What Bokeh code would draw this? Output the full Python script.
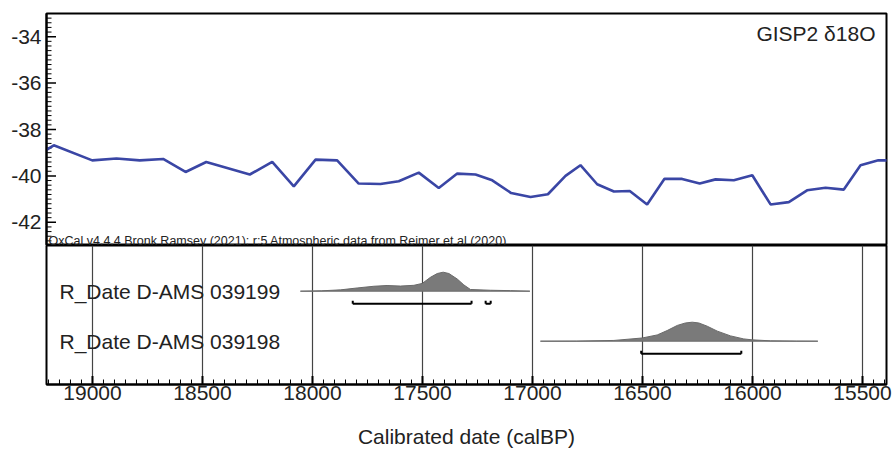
import math
from bokeh.plotting import figure
from bokeh.layouts import column
from bokeh.models import Range1d, FixedTicker, Label, CustomJSTickFormatter
from bokeh.core.properties import value
from bokeh.embed import file_html
from bokeh.resources import INLINE

# ---------------- data ----------------
gisp_years = [19230, 19176, 19001, 18891, 18785, 18679, 18577, 18483, 18285, 18183,
              18085, 17986, 17888, 17790, 17691, 17608, 17517, 17426, 17342, 17259,
              17183, 17097, 17009, 16930, 16850, 16782, 16706, 16630, 16558, 16479,
              16400, 16320, 16240, 16168, 16085, 16001, 15918, 15835, 15752, 15668,
              15585, 15509, 15428, 15370]
gisp_d18o = [-39.00, -38.68, -39.33, -39.25, -39.33, -39.27, -39.83, -39.40, -39.94, -39.40,
             -40.45, -39.30, -39.33, -40.33, -40.35, -40.23, -39.86, -40.52, -39.90, -39.94,
             -40.19, -40.74, -40.91, -40.79, -40.00, -39.54, -40.36, -40.67, -40.65, -41.23,
             -40.12, -40.13, -40.33, -40.15, -40.19, -39.97, -41.23, -41.13, -40.62, -40.51,
             -40.59, -39.54, -39.33, -39.33]

sample_names = ["R_Date D-AMS 039199", "R_Date D-AMS 039198"]

d1_years = [18055, 17960, 17873, 17797, 17721, 17661, 17600, 17539, 17501, 17464, 17433,
            17406, 17380, 17342, 17312, 17282, 17191, 17100, 17012]
d1_prob = [0.0, 0.02, 0.07, 0.17, 0.26, 0.30, 0.27, 0.31, 0.41, 0.73, 0.93,
           1.0, 0.93, 0.64, 0.33, 0.09, 0.05, 0.03, 0.0]

d2_years = [16964, 16800, 16630, 16501, 16433, 16388, 16342, 16305, 16274, 16244,
            16206, 16160, 16100, 16040, 16001, 15918, 15800, 15703]
d2_prob = [0.0, 0.005, 0.04, 0.17, 0.33, 0.56, 0.83, 0.96, 1.0, 0.96,
           0.79, 0.53, 0.28, 0.12, 0.07, 0.02, 0.005, 0.0]

# 95.4% ranges: (sample index, from, to)
range_sample = [0, 0, 1]
range_from = [17817, 17213, 16506]
range_to = [17277, 17190, 16051]

x_major = [15500, 16000, 16500, 17000, 17500, 18000, 18500, 19000]
y_major = [-42, -40, -38, -36, -34]

# ---------------- styling ----------------
FONT = "Liberation Sans"
TXT = "#222222"
X0, X1 = 19209, 15391
Y0, Y1 = -43, -33
W = 892
LB = 46
RB = 6

x_range = Range1d(X0, X1)
plain = CustomJSTickFormatter(code="return tick.toString();")

y_minor = [v for v in [Y0 + 0.2 * i for i in range(51)] if all(abs(v - m) > 1e-6 for m in y_major)]
x_minor = [v for v in [15350 + 50 * i for i in range(78)] if v not in x_major]

# ---------------- top panel ----------------
p1 = figure(width=W, height=245, x_range=x_range, y_range=Range1d(Y0, Y1),
            output_backend="svg", toolbar_location=None,
            min_border_left=LB, min_border_right=RB, min_border_top=13, min_border_bottom=0)
p1.xaxis.visible = False
p1.grid.visible = False
p1.outline_line_color = "black"
p1.outline_line_width = 2
p1.yaxis.ticker = FixedTicker(ticks=y_major)
p1.yaxis.formatter = plain
p1.yaxis.axis_line_width = 2
p1.yaxis.axis_line_color = "black"
p1.yaxis.major_tick_in = 0
p1.yaxis.major_tick_out = 0
p1.yaxis.minor_tick_in = 0
p1.yaxis.minor_tick_out = 0
p1.yaxis.major_label_text_font = FONT
p1.yaxis.major_label_text_font_size = "21px"
p1.yaxis.major_label_text_color = TXT
p1.yaxis.major_label_standoff = 5

# inward tick marks (half of each dash is clipped by the frame)
p1.scatter(x=[X0] * len(y_major), y=y_major, marker="dash", size=19,
           line_color="black", line_width=1.5)
p1.scatter(x=[X0] * len(y_minor), y=y_minor, marker="dash", size=10,
           line_color="black", line_width=1)

p1.line(gisp_years, gisp_d18o, line_color="#3a46a5", line_width=2.6)

p1.add_layout(Label(x=X1, y=Y1, x_offset=-11, y_offset=-8, text="GISP2 δ18O",
                    text_align="right", text_baseline="top", text_font=FONT,
                    text_font_size="21px", text_color=TXT))
p1.add_layout(Label(x=X0, y=Y0, x_offset=2, y_offset=5,
                    text="OxCal v4.4.4 Bronk Ramsey (2021); r:5 Atmospheric data from Reimer et al (2020)",
                    text_align="left", text_baseline="alphabetic", text_font=FONT,
                    text_font_size="12.5px", text_color=TXT))

# ---------------- bottom panel ----------------
ROWS = [2, 1]          # row positions of the two samples
H = 0.38               # peak height in row units
B0, B1 = 0.134, 2.914
p2 = figure(width=W, height=209, x_range=x_range, y_range=Range1d(B0, B1),
            output_backend="svg", toolbar_location=None,
            min_border_left=LB, min_border_right=RB, min_border_top=0, min_border_bottom=70)
p2.yaxis.visible = False
p2.ygrid.visible = False
p2.outline_line_color = "black"
p2.outline_line_width = 2
p2.xaxis.ticker = FixedTicker(ticks=x_major)
p2.xaxis.formatter = plain
p2.xgrid.ticker = FixedTicker(ticks=x_major)
p2.xgrid.grid_line_color = "#444444"
p2.xgrid.grid_line_width = 1.2
p2.xaxis.axis_line_width = 2
p2.xaxis.axis_line_color = "black"
p2.xaxis.major_tick_in = 0
p2.xaxis.major_tick_out = 0
p2.xaxis.minor_tick_in = 0
p2.xaxis.minor_tick_out = 0
p2.xaxis.major_label_text_font = FONT
p2.xaxis.major_label_text_font_size = "21px"
p2.xaxis.major_label_text_color = TXT
p2.xaxis.major_label_standoff = 1
p2.xaxis.axis_label = "Calibrated date (calBP)"
p2.xaxis.axis_label_text_font = FONT
p2.xaxis.axis_label_text_font_size = "21px"
p2.xaxis.axis_label_text_font_style = "normal"
p2.xaxis.axis_label_text_color = TXT
p2.xaxis.axis_label_standoff = 22

p2.scatter(x=x_major, y=[B0] * len(x_major), marker="dash", size=17, angle=math.pi / 2,
           line_color="black", line_width=2)
p2.scatter(x=x_minor, y=[B0] * len(x_minor), marker="dash", size=10, angle=math.pi / 2,
           line_color="black", line_width=1)

for yrs, prob, row in [(d1_years, d1_prob, ROWS[0]), (d2_years, d2_prob, ROWS[1])]:
    top = [row + H * v for v in prob]
    p2.varea(x=yrs, y1=[row] * len(yrs), y2=top, fill_color="#7a7a7a")
    p2.line(yrs, top, line_color="#6a6a6a", line_width=1)
    p2.line([yrs[0], yrs[-1]], [row, row], line_color="#6a6a6a", line_width=1)

bar_y = [ROWS[i] - 0.25 for i in range_sample]
tick_top = [ROWS[i] - 0.25 + 0.06 for i in range_sample]
p2.segment(x0=range_from, y0=bar_y, x1=range_to, y1=bar_y, line_color="black", line_width=2)
p2.segment(x0=range_from, y0=bar_y, x1=range_from, y1=tick_top, line_color="black", line_width=2)
p2.segment(x0=range_to, y0=bar_y, x1=range_to, y1=tick_top, line_color="black", line_width=2)

p2.text(x=[X0] * len(sample_names), y=ROWS, text=sample_names, x_offset=13, y_offset=0,
        text_baseline="middle", text_align="left", text_font=value(FONT),
        text_font_size="21px", text_color=TXT)

layout = column(p1, p2, spacing=0)
open("out.html", "w").write(file_html(layout, INLINE))
